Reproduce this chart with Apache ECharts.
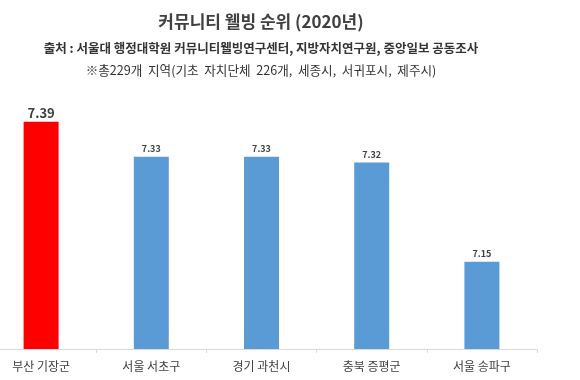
<!DOCTYPE html>
<html><head><meta charset="utf-8">
<script src="https://cdn.jsdelivr.net/npm/echarts@6/dist/echarts.min.js"></script>
<style>html,body{margin:0;padding:0;background:#fff;overflow:hidden}#c{position:absolute;left:-14px;top:0;width:594px;height:380px}</style>
</head><body><div id="c"></div>
<script>
const categories = ['부산 기장군', '서울 서초구', '경기 과천시', '충북 증평군', '서울 송파구'];
const values = [7.39, 7.33, 7.33, 7.32, 7.15];
const barColors = ['#ff0000', '#5b9bd5', '#5b9bd5', '#5b9bd5', '#5b9bd5'];
const titleText = '커뮤니티 웰빙 순위 (2020년)';
const sourceText = '출처 : 서울대 행정대학원 커뮤니티웰빙연구센터, 지방자치연구원, 중앙일보 공동조사';
const noteText = '※총229개  지역(기초  자치단체  226개,  세종시,  서귀포시,  제주시)';

const font = '"Noto Sans CJK KR", "Noto Sans", sans-serif';
const cx = 275; // 261 in page coords (div shifted by -14)
const chart = echarts.init(document.getElementById('c'), null, {renderer: 'canvas'});
chart.setOption({
  animation: false,
  backgroundColor: '#fff',
  graphic: [
    {type: 'text', x: cx, y: 22, style: {text: titleText, align: 'center', verticalAlign: 'middle', font: 'bold 17px ' + font, fill: '#404040'}},
    {type: 'text', x: cx, y: 48, style: {text: sourceText, align: 'center', verticalAlign: 'middle', font: 'bold 12.5px ' + font, fill: '#333'}},
    {type: 'text', x: cx, y: 70, style: {text: noteText, align: 'center', verticalAlign: 'middle', font: '12.6px ' + font, fill: '#333'}}
  ],
  grid: {left: 0, right: 43, top: 116, bottom: 31, containLabel: false},
  xAxis: {
    type: 'category', data: categories,
    axisLine: {lineStyle: {color: '#d9d9d9'}},
    axisTick: {show: true, lineStyle: {color: '#d9d9d9'}, length: 4},
    axisLabel: {fontFamily: font, fontSize: 12, color: '#404040', margin: 11}
  },
  yAxis: {type: 'value', min: 7.0, max: 7.4, show: false, splitLine: {show: false}},
  series: [{
    type: 'bar', barWidth: 35,
    data: values.map((v, i) => ({
      value: v,
      itemStyle: {color: barColors[i]},
      label: i === 0 ? {fontSize: 13, distance: 2} : {fontSize: 9}
    })),
    label: {show: true, position: 'top', distance: 4, fontFamily: font, fontWeight: 'bold', color: '#404040', formatter: p => p.value.toFixed(2)}
  }]
});
</script></body></html>
